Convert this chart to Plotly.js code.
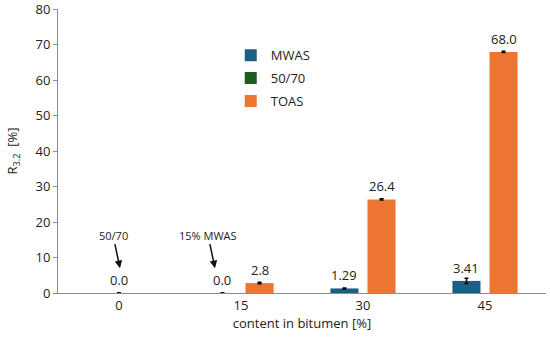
<!DOCTYPE html>
<html><head><meta charset="utf-8">
<script src="https://cdn.plot.ly/plotly-3.0.1.min.js"></script>
<style>html,body{margin:0;padding:0;background:#fff}#chart{width:550px;height:341px}</style>
</head><body><div id="chart"></div>
<script>
const categories = ['0', '15', '30', '45'];
const mwasValues = [null, 0.0, 1.29, 3.41];
const mwasErrors = [null, 0.05, 0.15, 0.75];
const mwasLabels = ['', '0.0', '1.29', '3.41'];
const b5070Values = [0.0, null, null, null];
const b5070Errors = [0.05, null, null, null];
const b5070Labels = ['0.0', '', '', ''];
const toasValues = [null, 2.8, 26.4, 68.0];
const toasErrors = [null, 0.2, 0.2, 0.2];
const toasLabels = ['', '2.8', '26.4', '68.0'];
const yTicks = [0, 10, 20, 30, 40, 50, 60, 70, 80];
const arrowNotes = [
  {cat: '0', text: '50/70', y: 7.0},
  {cat: '15', text: '15% MWAS', y: 7.0}
];

const font = 'Open Sans, Noto Sans, sans-serif';
const W = 0.23; // bar width in category units
const series = [
  {name: 'MWAS', y: mwasValues, e: mwasErrors, lab: mwasLabels, color: '#1b5f86', shift: -0.152},
  {name: '50/70', y: b5070Values, e: b5070Errors, lab: b5070Labels, color: '#1e5c1e', shift: 0},
  {name: 'TOAS', y: toasValues, e: toasErrors, lab: toasLabels, color: '#ed7532', shift: 0.152}
];
const traces = series.map(s => ({
  type: 'bar', name: s.name, legendgroup: s.name, x: categories, y: s.y,
  width: W, offset: s.shift - W/2,
  marker: {color: s.color},
  error_y: {type: 'data', array: s.e, visible: true, color: '#000', thickness: 1.5, width: 2},
  hoverinfo: 'skip'
}));
const annotations = [];
series.forEach(s => {
  s.y.forEach((v, i) => {
    if (v === null) return;
    annotations.push({x: i, y: v, xref: 'x', yref: 'y', text: s.lab[i],
      showarrow: false, xshift: s.shift * 122, yshift: 13, yanchor: 'middle',
      font: {family: font, size: 13, color: '#222'}});
  });
});
arrowNotes.forEach((a, k) => {
  annotations.push({x: categories.indexOf(a.cat), y: a.y, xref: 'x', yref: 'y', text: a.text,
    showarrow: true, arrowhead: 2, arrowsize: 1, arrowwidth: 1.5, arrowcolor: '#111',
    ax: -7, ay: -33, xshift: k === 0 ? 1 : -26,
    font: {family: font, size: 11, color: '#222'}});
});

const layout = {
  width: 550, height: 341,
  margin: {l: 58, r: 4, t: 9, b: 48},
  paper_bgcolor: '#fff', plot_bgcolor: '#fff',
  font: {family: font, size: 13, color: '#222'},
  showlegend: true,
  legend: {x: 0.354, y: 0.89, xanchor: 'left', yanchor: 'top', bgcolor: 'rgba(0,0,0,0)',
    font: {family: font, size: 13, color: '#222'}, tracegroupgap: 3, itemwidth: 30},
  xaxis: {type: 'category', range: [-0.5, 3.5], showline: true, linecolor: '#8c8c8c', linewidth: 1,
    ticks: '', showgrid: false, zeroline: false,
    tickfont: {family: font, size: 13, color: '#222'},
    title: {text: 'content in bitumen [%]', standoff: 6, font: {family: font, size: 13, color: '#222'}}},
  yaxis: {range: [0, 80.1], tickmode: 'array', tickvals: yTicks, ticktext: yTicks.map(String),
    ticklabeloverflow: 'allow', showline: true, linecolor: '#8c8c8c', linewidth: 1,
    ticks: 'outside', ticklen: 4, tickcolor: '#8c8c8c', showgrid: false, zeroline: false,
    tickfont: {family: font, size: 13, color: '#222'},
    title: {text: 'R<sub>3.2</sub>  [%]', standoff: 14, font: {family: font, size: 13, color: '#222'}}},
  annotations: annotations
};
Plotly.newPlot('chart', traces, layout, {staticPlot: true, displayModeBar: false});
</script></body></html>
